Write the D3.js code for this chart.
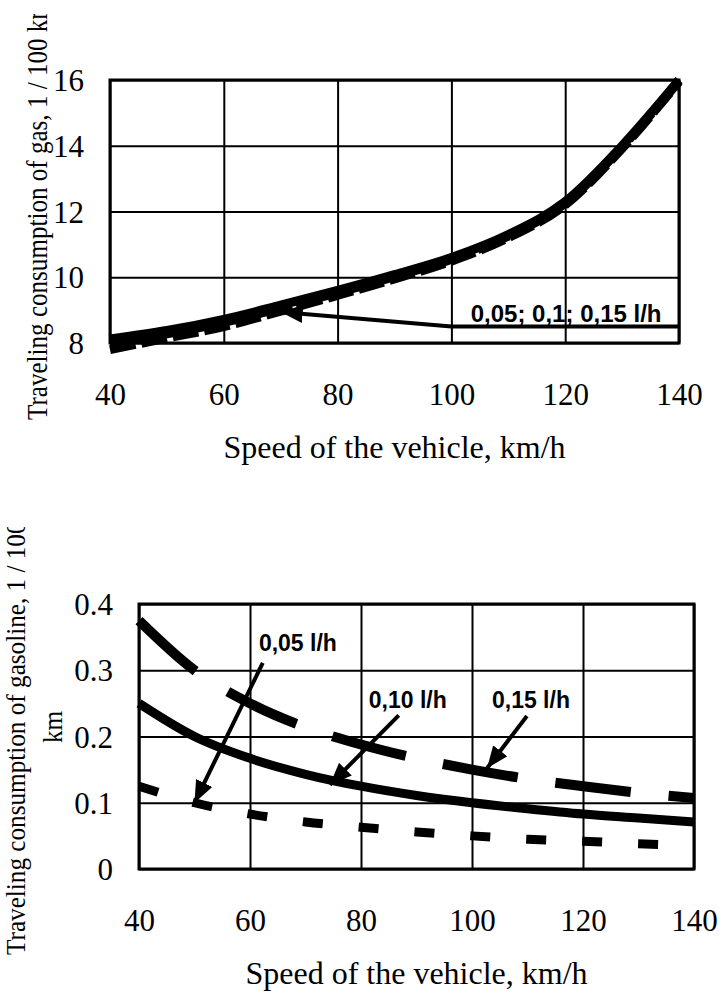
<!DOCTYPE html>
<meta charset="utf-8">
<style>
    body {
        margin: 0;
        background: #fff;
    }
    svg {
        display: block;
    }
    .tick text {
        font-family: "Liberation Serif", "Times New Roman", serif;
        font-size: 31px;
        fill: #000;
    }
    .axis path {
        display: none;
    }
    .grid line {
        stroke: #000;
        stroke-width: 2;
    }
    .grid path {
        display: none;
    }
    .title {
        font-family: "Liberation Serif", "Times New Roman", serif;
        fill: #000;
    }
    .note {
        font-family: "Liberation Sans", Arial, sans-serif;
        font-weight: bold;
        fill: #000;
    }
</style>
<svg width="724" height="992"></svg>
<script src="https://d3js.org/d3.v7.min.js"></script>
<script>
    // speeds shared by both charts, km/h
    var speeds = [40, 50, 60, 70, 80, 90, 100, 110, 120, 130, 140];
    var speedTicks = [40, 60, 80, 100, 120, 140];

    // upper chart: consumption of gas, l/100 km (three nearly overlapping curves)
    var gasSolid = [8.12, 8.38, 8.72, 9.15, 9.6, 10.08, 10.6, 11.3, 12.3, 14.0, 16.0];
    var gasDashA = [7.98, 8.28, 8.62, 9.07, 9.53, 10.02, 10.55, 11.25, 12.25, 13.96, 15.97];
    var gasDashB = [7.8, 8.15, 8.5, 8.97, 9.45, 9.95, 10.49, 11.2, 12.2, 13.92, 15.95];
    var gasTicks = [8, 10, 12, 14, 16];

    // lower chart: consumption of gasoline, l/100 km
    var petrol005 = [0.125, 0.1, 0.083, 0.071, 0.063, 0.056, 0.05, 0.045, 0.042, 0.038, 0.036];
    var petrol010 = [0.25, 0.2, 0.167, 0.143, 0.125, 0.111, 0.1, 0.091, 0.083, 0.077, 0.071];
    var petrol015 = [0.375, 0.3, 0.25, 0.214, 0.188, 0.167, 0.15, 0.136, 0.125, 0.115, 0.107];
    var petrolTicks = [0, 0.1, 0.2, 0.3, 0.4];

    var svg = d3.select('svg');

    var defs = svg.append('defs');
    defs.append('marker')
        .attr('id', 'head')
        .attr('markerUnits', 'userSpaceOnUse')
        .attr('viewBox', '0 0 22 18')
        .attr('refX', 22)
        .attr('refY', 9)
        .attr('markerWidth', 22)
        .attr('markerHeight', 18)
        .attr('orient', 'auto')
        .append('path')
        .attr('d', 'M0,0L22,9L0,18Z')
        .attr('fill', '#000');

    // draws frame, grid and tick labels, returns the scales
    function panel(xRange, yDomain, yRange, yTicks, yFormat) {
        var x = d3.scaleLinear().domain([40, 140]).range(xRange),
            y = d3.scaleLinear().domain(yDomain).range(yRange);
        var w = xRange[1] - xRange[0],
            h = yRange[0] - yRange[1];

        svg.append('g')
            .attr('class', 'grid')
            .attr('transform', 'translate(0,' + yRange[0] + ')')
            .call(d3.axisBottom(x).tickValues(speedTicks).tickSize(-h).tickFormat(''));
        svg.append('g')
            .attr('class', 'grid')
            .attr('transform', 'translate(' + xRange[0] + ',0)')
            .call(d3.axisLeft(y).tickValues(yTicks).tickSize(-w).tickFormat(''));

        svg.append('rect')
            .attr('x', xRange[0])
            .attr('y', yRange[1])
            .attr('width', w)
            .attr('height', h)
            .attr('fill', 'none')
            .attr('stroke', '#000')
            .attr('stroke-width', 3);

        svg.append('g')
            .attr('class', 'axis')
            .attr('transform', 'translate(0,' + yRange[0] + ')')
            .call(d3.axisBottom(x).tickValues(speedTicks).tickSize(0).tickPadding(62))
            .selectAll('text').attr('dy', '0');
        svg.append('g')
            .attr('class', 'axis')
            .attr('transform', 'translate(' + xRange[0] + ',0)')
            .call(d3.axisLeft(y).tickValues(yTicks).tickSize(0).tickPadding(26).tickFormat(yFormat))
            .selectAll('text').attr('dy', '0.34em');

        svg.append('text')
            .attr('class', 'title')
            .attr('x', (xRange[0] + xRange[1]) / 2)
            .attr('y', yRange[0] + 115)
            .attr('text-anchor', 'middle')
            .attr('font-size', 32)
            .text('Speed of the vehicle, km/h');

        return { x: x, y: y };
    }

    function curve(s, values, width, dash) {
        var line = d3.line()
            .x((d, i) => s.x(speeds[i]))
            .y(d => s.y(d))
            .curve(d3.curveMonotoneX);
        svg.append('path')
            .datum(values)
            .attr('d', line)
            .attr('fill', 'none')
            .attr('stroke', '#000')
            .attr('stroke-width', width)
            .attr('stroke-dasharray', dash);
    }

    function arrow(s, from, to) {
        svg.append('line')
            .attr('x1', s.x(from[0]))
            .attr('y1', s.y(from[1]))
            .attr('x2', s.x(to[0]))
            .attr('y2', s.y(to[1]))
            .attr('stroke', '#000')
            .attr('stroke-width', 4)
            .attr('marker-end', 'url(#head)');
    }

    function note(s, at, txt, size) {
        svg.append('text')
            .attr('class', 'note')
            .attr('x', s.x(at[0]))
            .attr('y', s.y(at[1]))
            .attr('font-size', size)
            .text(txt);
    }

    // ---- upper chart
    var upper = panel([110, 679], [8, 16], [343, 80], gasTicks, d3.format('d'));

    curve(upper, gasDashB, 9, '26,6');
    curve(upper, gasDashA, 9, '34,4');
    curve(upper, gasSolid, 9, null);

    svg.append('line')
        .attr('x1', upper.x(100))
        .attr('x2', upper.x(140))
        .attr('y1', upper.y(8.5))
        .attr('y2', upper.y(8.5))
        .attr('stroke', '#000')
        .attr('stroke-width', 4);
    arrow(upper, [100, 8.5], [70, 8.94]);
    note(upper, [103.4, 8.64], '0,05; 0,1; 0,15 l/h', 24);

    // the reference cuts the end of this title at the top edge
    var clipTop = defs.append('clipPath').attr('id', 'clipTop');
    clipTop.append('rect').attr('x', 0).attr('y', 14).attr('width', 724).attr('height', 978);
    svg.append('g')
        .attr('clip-path', 'url(#clipTop)')
        .append('text')
        .attr('class', 'title')
        .attr('font-size', 29)
        .attr('transform', 'translate(47,420) rotate(-90) scale(0.865,1)')
        .text('Traveling consumption of gas, 1 / 100 km');

    // ---- lower chart
    var lower = panel([139, 694], [0, 0.4], [869, 604], petrolTicks, d => d === 0 ? '0' : d.toFixed(1));

    curve(lower, petrol005, 9, '20,36');
    curve(lower, petrol010, 9, null);
    curve(lower, petrol015, 10, '76,38');

    arrow(lower, [62.3, 0.311], [50, 0.1]);
    arrow(lower, [86.8, 0.232], [74.4, 0.127]);
    arrow(lower, [109.9, 0.231], [102.7, 0.152]);
    note(lower, [61.6, 0.329], '0,05 l/h', 23);
    note(lower, [81.4, 0.243], '0,10 l/h', 23);
    note(lower, [103.6, 0.243], '0,15 l/h', 23);

    var clipBottom = defs.append('clipPath').attr('id', 'clipBottom');
    clipBottom.append('rect').attr('x', 0).attr('y', 527).attr('width', 724).attr('height', 465);
    var yTitle = svg.append('g').attr('clip-path', 'url(#clipBottom)');
    yTitle.append('text')
        .attr('class', 'title')
        .attr('font-size', 28)
        .attr('transform', 'translate(25,955) rotate(-90) scale(0.9,1)')
        .text('Traveling consumption of gasoline, 1 / 100');
    yTitle.append('text')
        .attr('class', 'title')
        .attr('font-size', 28)
        .attr('text-anchor', 'middle')
        .attr('transform', 'translate(62,727) rotate(-90) scale(0.9,1)')
        .text('km');
</script>
